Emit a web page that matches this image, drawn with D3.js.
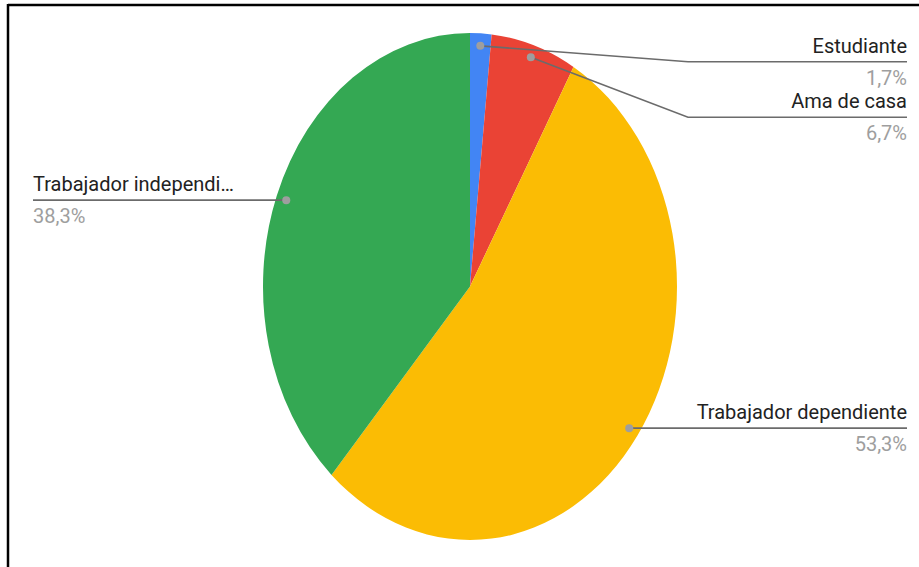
<!DOCTYPE html>
<html>
<head>
<meta charset="utf-8">
<script src="https://cdn.jsdelivr.net/npm/d3@7"></script>
<style>
  body { margin: 0; background: #fff; }
  svg { display: block; font-family: Roboto, "Liberation Sans", Arial, sans-serif; }
</style>
</head>
<body>
<svg id="chart" width="919" height="567"></svg>
<script>
// categories and counts (60 respondents)
var categories = ["Estudiante", "Ama de casa", "Trabajador dependiente", "Trabajador independiente"];
var shortNames = ["Estudiante", "Ama de casa", "Trabajador dependiente", "Trabajador independi\u2026"];
var counts = [1, 4, 32, 23];
var pctLabels = ["1,7%", "6,7%", "53,3%", "38,3%"];
var colors = ["#4285f4", "#ea4335", "#fbbc04", "#34a853"];

var svg = d3.select("#chart");

// frame (top and left edges only)
svg.append("line").attr("x1", 8).attr("y1", 5).attr("x2", 919).attr("y2", 5)
    .attr("stroke", "#000").attr("stroke-width", 2.5);
svg.append("line").attr("x1", 8).attr("y1", 4).attr("x2", 8).attr("y2", 567)
    .attr("stroke", "#000").attr("stroke-width", 2.5);

var cx = 470, cy = 286.5, r = 253.5, sx = 207 / 253.5;

var data = categories.map(function(c, i) {
    return { name: c, short: shortNames[i], value: counts[i], pct: pctLabels[i], color: colors[i] };
});

var pie = d3.pie().sort(null).value(function(d) { return d.value; });
var arcs = pie(data);
var arc = d3.arc().innerRadius(0).outerRadius(r);
var dotArc = d3.arc().innerRadius(241).outerRadius(241);

var g = svg.append("g").attr("transform", "translate(" + cx + "," + cy + ") scale(" + sx + ",1)");
g.selectAll("path").data(arcs).enter().append("path")
    .attr("d", arc)
    .attr("fill", function(d) { return d.data.color; });

// label layout
var rightX = 907, leftX = 33, elbowX = 688, step = 55.6, minY = 61.7;
var pts = arcs.map(function(a) {
    var c = dotArc.centroid(a);
    return { a: a, x: cx + c[0] * sx, y: cy + c[1], right: c[0] >= 0 };
});
var prevY = -Infinity;
pts.filter(function(p) { return p.right; })
   .sort(function(a, b) { return a.y - b.y; })
   .forEach(function(p) {
       p.ly = Math.max(p.y, minY, prevY + step);
       prevY = p.ly;
   });
pts.filter(function(p) { return !p.right; }).forEach(function(p) { p.ly = p.y; });

var lab = svg.append("g");
pts.forEach(function(p) {
    var endX = p.right ? rightX : leftX;
    var path = p.ly > p.y + 0.5
        ? [[p.x, p.y], [elbowX, p.ly], [endX, p.ly]]
        : [[p.x, p.y], [endX, p.ly]];
    lab.append("path")
        .attr("d", d3.line()(path))
        .attr("fill", "none")
        .attr("stroke", "#6b6b6b")
        .attr("stroke-width", 1.6);
    lab.append("circle").attr("cx", p.x).attr("cy", p.y).attr("r", 4)
        .attr("fill", "#9e9e9e");
    var anchor = p.right ? "end" : "start";
    lab.append("text").attr("x", endX).attr("y", p.ly - 9)
        .attr("text-anchor", anchor)
        .attr("font-size", 20).attr("fill", "#222")
        .text(p.a.data.short);
    lab.append("text").attr("x", endX).attr("y", p.ly + 23)
        .attr("text-anchor", anchor)
        .attr("font-size", 20).attr("fill", "#9e9e9e")
        .text(p.a.data.pct);
});
</script>
</body>
</html>
